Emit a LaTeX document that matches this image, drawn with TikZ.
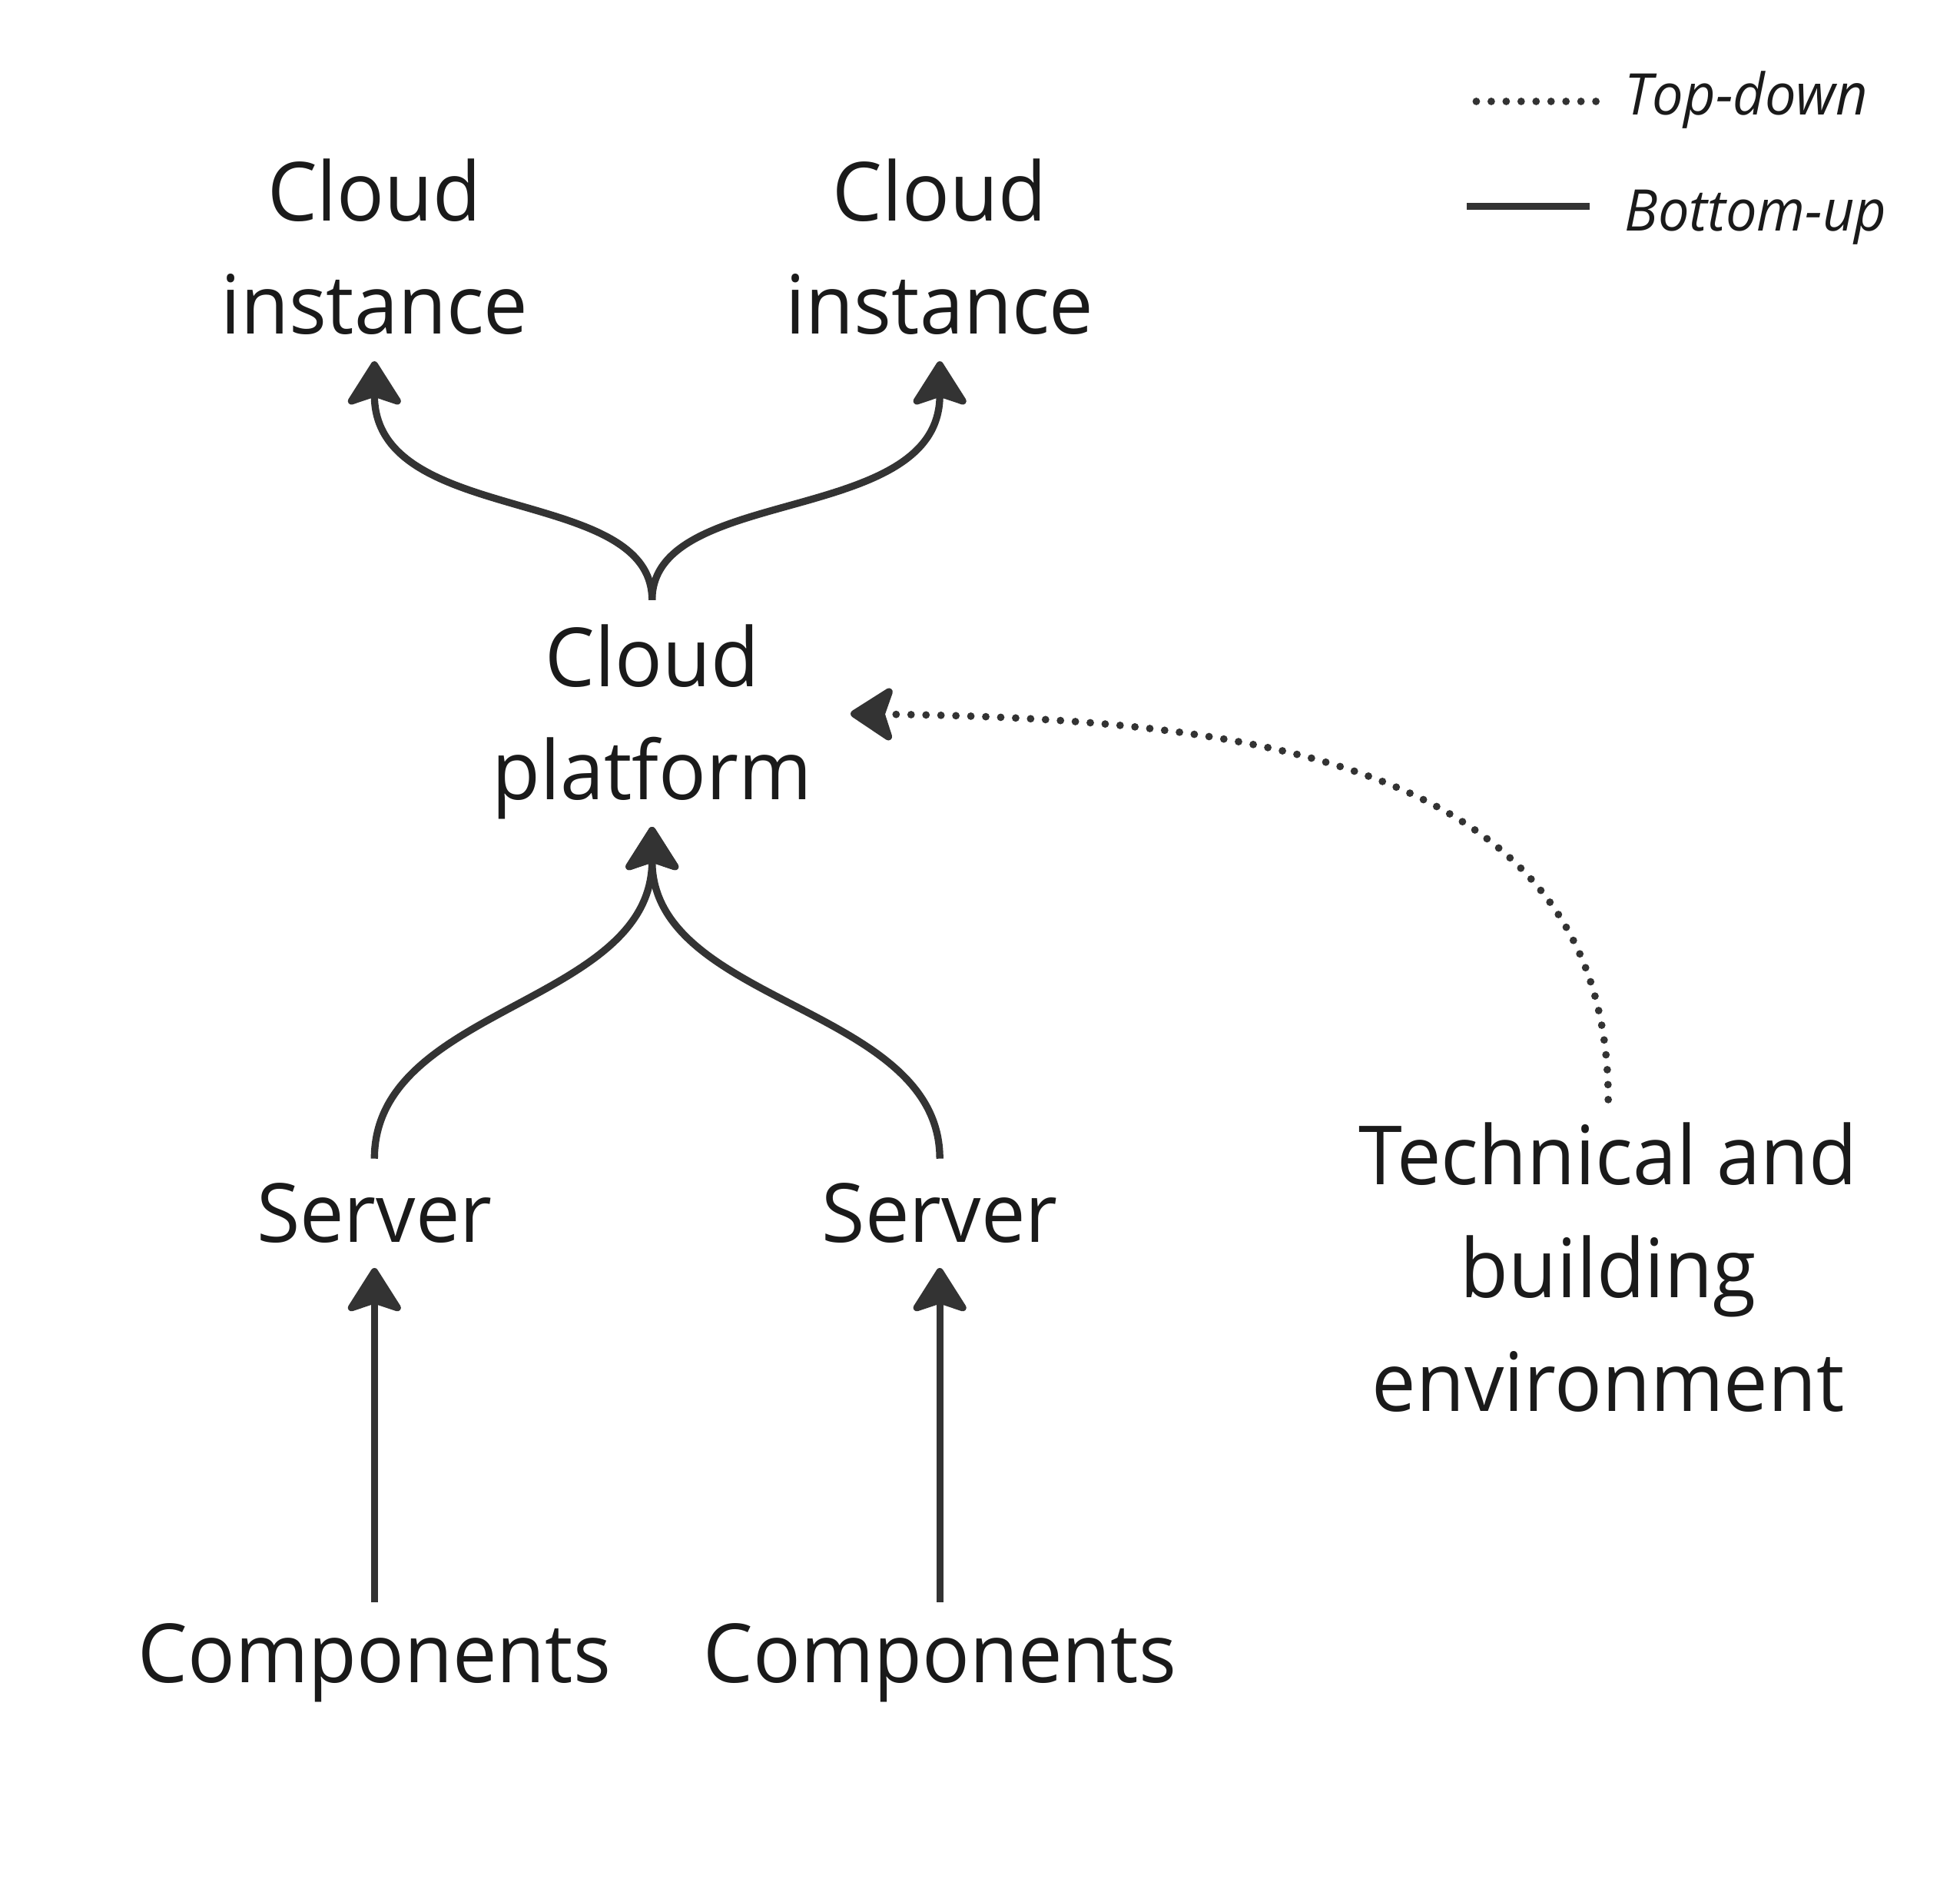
\documentclass[tikz,border=0pt]{standalone}
\usepackage{fontspec}
\setmainfont{Open Sans}[FakeStretch=0.965]
\usetikzlibrary{arrows.meta}
\definecolor{ln}{HTML}{333333}
\definecolor{tx}{HTML}{1A1A1A}
\begin{document}
\begin{tikzpicture}[x=1pt,y=-1pt,
  lbl/.style={text=tx,font=\fontsize{65}{90.3}\selectfont,align=center,inner sep=0pt,anchor=base},
  leg/.style={text=tx,font=\fontsize{45.7}{60}\selectfont\itshape,inner sep=0pt,anchor=base west},
  tip/.style={-{Stealth[length=39pt,width=49pt,inset=8pt,round]}},
  solidarr/.style={draw=ln,line width=5.7pt,tip},
  dotarr/.style={draw=ln,line width=6pt,line cap=round,dash pattern=on 0pt off 11.9pt,-{Stealth[length=38pt,width=49pt,inset=8pt,round]}}
]
\useasboundingbox (0,0) rectangle (1560,1497.6);
\fill[white] (0,0) rectangle (1560,1497.6);
% nodes (anchor = baseline of last line)
\node[lbl] (ciL) at (298,266) {Cloud\\instance};
\node[lbl] (ciR) at (748,266) {Cloud\\instance};
\node[lbl] (cp) at (519,636.5) {Cloud\\platform};
\node[lbl] (svL) at (298,988.5) {Server};
\node[lbl] (svR) at (748,988.5) {Server};
\node[lbl] (coL) at (298,1339) {Components};
\node[lbl] (coR) at (748,1339) {Components};
\node[lbl] (te) at (1280,1123) {Technical and\\building\\environment};
% connector end points
\coordinate (ciLt) at (298,287.5);
\coordinate (ciRt) at (748,287.5);
\coordinate (cpTop) at (519,477.5);
\coordinate (cpBot) at (519,658);
\coordinate (cpRight) at (677,568);
\coordinate (svLt) at (298,922);
\coordinate (svRt) at (748,922);
\coordinate (svLb) at (298,1009);
\coordinate (svRb) at (748,1009);
\coordinate (coLt) at (298,1275);
\coordinate (coRt) at (748,1275);
\coordinate (teTop) at (1280,875);
% connectors
\draw[solidarr] (cpTop) .. controls (519,385) and (298,420) .. (ciLt);
\draw[solidarr] (cpTop) .. controls (519,385) and (748,420) .. (ciRt);
\draw[solidarr] (svLt) .. controls (298,800) and (519,800) .. (cpBot);
\draw[solidarr] (svRt) .. controls (748,800) and (519,800) .. (cpBot);
\draw[solidarr] (coLt) -- (svLb);
\draw[solidarr] (coRt) -- (svRb);
\draw[dotarr] (teTop) .. controls (1280,600) and (980,572) .. (cpRight);
% legend
\coordinate (l1a) at (1175,80.7);
\coordinate (l1b) at (1270.2,80.7);
\coordinate (l2a) at (1167.5,164);
\coordinate (l2b) at (1265.5,164);
\draw[ln,line width=6pt,line cap=round,dash pattern=on 0pt off 11.9pt] (l1a) -- (l1b);
\draw[ln,line width=5.7pt] (l2a) -- (l2b);
\node[leg] (lt1) at (1293,91.7) {Top-down};
\node[leg] (lt2) at (1293,183.5) {Bottom-up};
\end{tikzpicture}
\end{document}
